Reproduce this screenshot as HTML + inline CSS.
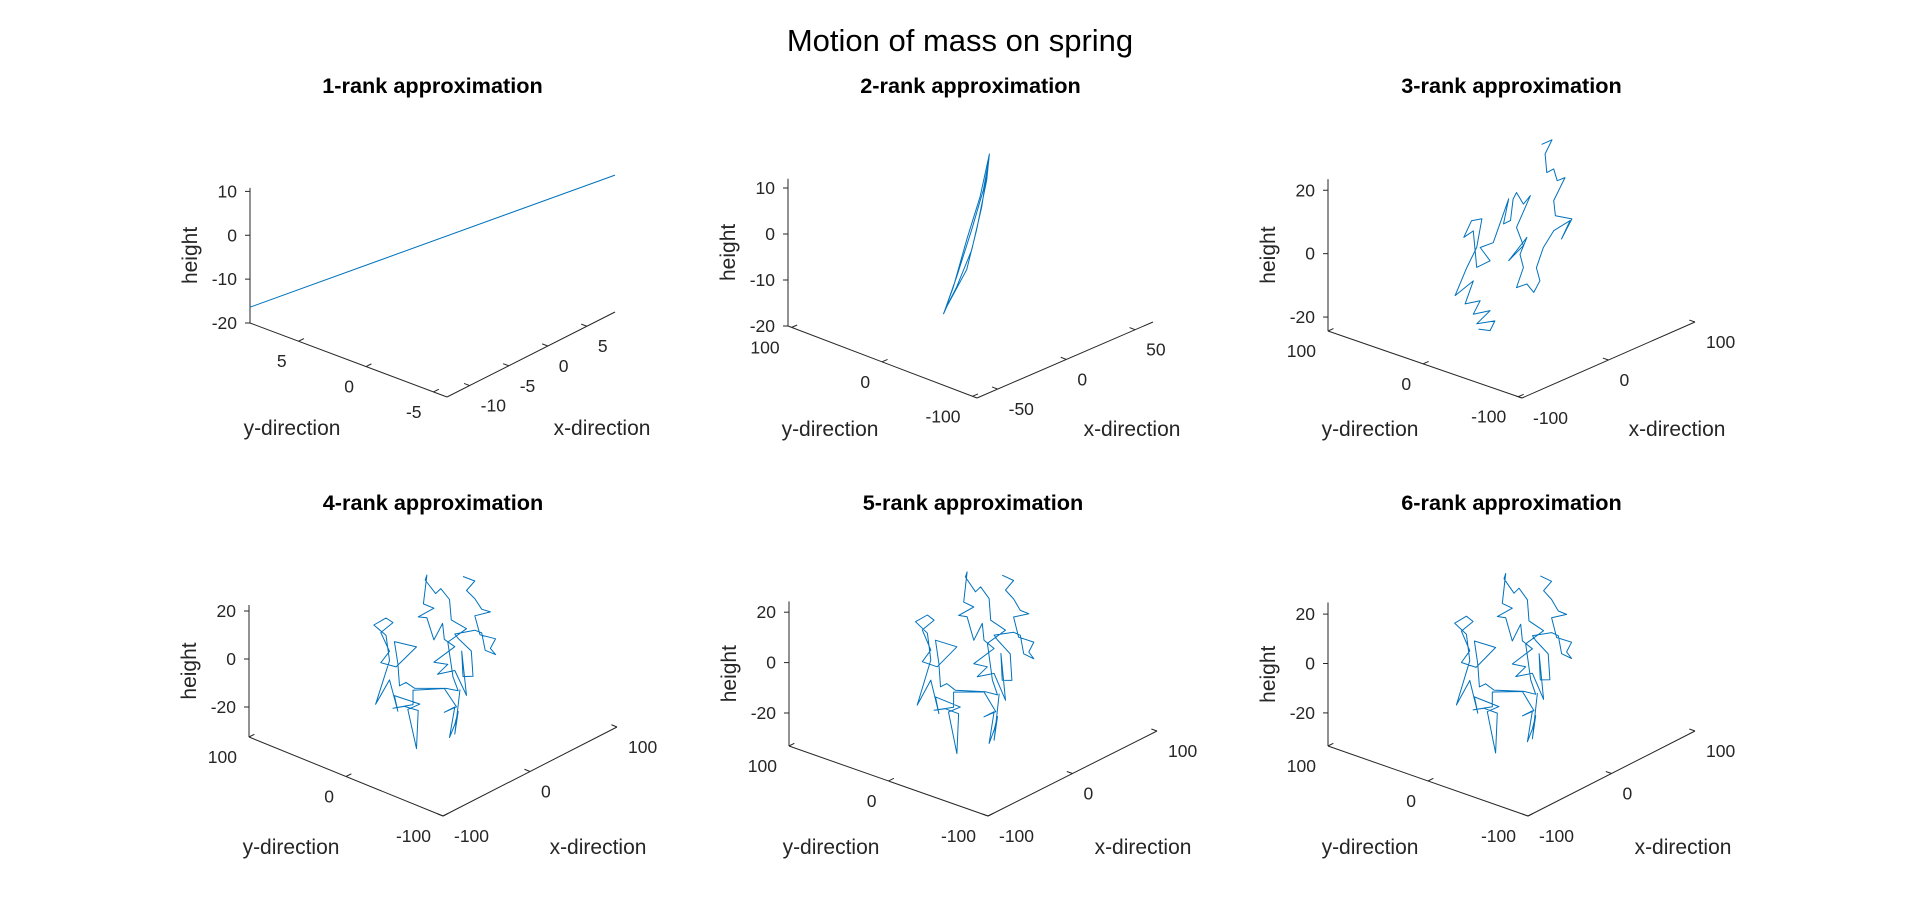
<!DOCTYPE html>
<html>
<head>
<meta charset="utf-8">
<style>
  html,body{margin:0;padding:0;background:#fff;}
  svg{display:block;font-family:"Liberation Sans",Arial,sans-serif;}
</style>
</head>
<body>
<svg id="fig" width="1920" height="911" viewBox="0 0 1920 911" xmlns="http://www.w3.org/2000/svg">
  <rect width="1920" height="911" fill="#ffffff"/>
  <text x="960" y="51" text-anchor="middle" font-size="31" fill="#000">Motion of mass on spring</text>
</svg>
<script>
// ---------- data ----------
const rank1X = [-12.9, 8.6];
const rank1Y = [8.6, -6];
const rank1Z = [-16.4, 11.2];

const rank2X = [-20.4,-13.1,-3.4,6.3,13.1,11.1,3.8,-3.4,-18,-19.2,-10.7,0.2,8.7,12.3,7.5,0.2,-10.7,-16.8,-20.4];
const rank2Z = [-15.4,-10.4,-1.4,6.7,15.1,9.7,-0.2,-7.9,-14.1,-14.6,-8.5,0.3,7.9,13.2,4.3,-4.1,-10.7,-13.5,-15.4];

const rank3X = [37,49,41,43,51,55,64,51,53,72,60,70,51,39,31,35,28,20,8,16,12,20,-1,16,8,24,16,8,4,1,-7,-1,-19,-34,-22.5,-38,-42,-53,-44,-32,-38,-49.5,-63,-42,-51.5,-34,-42,-22.5,-38,-17,-22.5,-36];
const rank3Z = [28.4,28.4,24.9,18.8,19,14.8,14.7,9,4,0.7,-4.2,0.4,-0.5,-4.4,-9.8,-14.4,-17.2,-13.6,-13.3,-7.9,-3.3,1.1,-3.7,-1,5.7,13.8,12.1,16.7,15.1,8.7,8.6,15.8,4.1,4.4,-1.2,-1.4,10.6,9.9,14,13.2,4.9,-0.1,-7.3,-5.2,-11.3,-12.4,-15.7,-16.9,-19.2,-20.8,-23.2,-21.1];

const rank4X = [34.5,48,38.5,48,56,66,48,54,72,66,72,60,56,48,25,29,44,46,34.5,33,38.5,25,5,17,1,25,13,11,1,-7,-17,1,-11,-7,-9,3,9,19,21,38.5,17,23,29,15,-21,-31,-38.5,-40.4,-44.4,-19,-42.4,-60,-50,-60,-46,-54,-68,-54,-50,-66,-50,-40.4,-44.4,-15,-29,-19,-17,-33,-46,-23,-23,13,27,13,25,19,25,29,25,31];
const rank4Z = [25.9,21.5,19.3,14.2,8.3,5.3,7,-2,-7,-9.9,-13.6,-9.6,-1.6,1,3.7,1.1,-6.9,-17.8,-15.8,-4.9,-24.4,-11.5,-9.4,-7.5,-3.6,-1.6,3.7,10.7,5.7,16.4,18.6,18.9,22.9,34.2,32.5,24.6,25.6,19.2,10.3,3.4,1.8,-13.8,-20.7,-17.1,-10.4,-6.1,-6.1,3.4,13.4,6.5,2.5,7.5,10.4,20.1,21.6,25,24.7,17.8,6.5,-8.7,-1.5,-16.4,-9.1,-18.1,-17.7,-35.9,-20.4,-15.7,-14.1,-16.8,-10.8,-16.8,-27,-26.7,-26.7,-38.3,-34,-29.3,-38,-20.5];

const rank5X = [34.5,48,38.5,48,56,66,48,54,72,66,72,60,56,48,25,29,44,46,34.5,33,38.5,25,5,17,1,25,13,11,1,-7,-17,1,-11,-7,-9,3,9,19,21,38.5,17,23,29,15,-21,-31,-38.5,-40.4,-44.4,-19,-42.4,-60,-50,-60,-46,-54,-68,-54,-50,-66,-50,-40.4,-44.4,-15,-29,-19,-17,-33,-46,-23,-23,13,27,13,25,19,25,29,25,31];
const rank5Z = [25.9,21.5,19.3,14.2,8.3,5.3,7,-2,-7,-9.9,-13.6,-9.6,-1.6,1,3.7,1.1,-6.9,-17.8,-15.8,-4.9,-24.4,-11.5,-9.4,-7.5,-3.6,-1.6,3.7,10.7,5.7,16.4,18.6,18.9,22.9,34.2,32.5,24.6,25.6,19.2,10.3,3.4,1.8,-13.8,-20.7,-17.1,-10.4,-6.1,-6.1,3.4,13.4,6.5,2.5,7.5,10.4,20.1,21.6,25,24.7,17.8,6.5,-8.7,-1.5,-16.4,-9.1,-18.1,-17.7,-35.9,-20.4,-15.7,-14.1,-16.8,-10.8,-16.8,-27,-26.7,-26.7,-38.3,-34,-29.3,-38,-20.5];

const rank6X = [34.5,48,38.5,48,56,66,48,54,72,66,72,60,56,48,25,29,44,46,34.5,33,38.5,25,5,17,1,25,13,11,1,-7,-17,1,-11,-7,-9,3,9,19,21,38.5,17,23,29,15,-21,-31,-38.5,-40.4,-44.4,-19,-42.4,-60,-50,-60,-46,-54,-68,-54,-50,-66,-50,-40.4,-44.4,-15,-29,-19,-17,-33,-46,-23,-23,13,27,13,25,19,25,29,25,31];
const rank6Z = [26.5,22,19.8,14.6,8.6,5.5,7.2,-1.8,-6.8,-9.7,-13.4,-9.4,-1.4,1.2,3.9,1.3,-6.7,-17.5,-15.6,-4.7,-24.2,-11.3,-9.2,-7.3,-3.4,-1.4,3.9,11,5.9,16.7,18.9,19.2,23.2,34.6,32.8,24.9,25.9,19.5,10.6,3.6,2,-13.6,-20.5,-16.9,-10.2,-5.9,-5.9,3.6,13.7,6.7,2.7,7.7,10.7,20.4,21.9,25.4,25,18.1,6.7,-8.5,-1.3,-16.2,-8.9,-17.9,-17.5,-36,-20.2,-15.5,-13.9,-16.6,-10.6,-16.6,-26.8,-26.5,-26.5,-38,-33.8,-29.1,-37.8,-20.3];

const xTicks1 = [-10, -5, 0, 5];
const yTicks1 = [5, 0, -5];
const zTicks1 = [10, 0, -10, -20];
const xTicks2 = [-50, 0, 50];
const yTicks2 = [100, 0, -100];
const zTicks2 = [10, 0, -10, -20];
const xTicksBig = [-100, 0, 100];
const yTicksBig = [100, 0, -100];
const zTicksBig = [20, 0, -20];

const titles = ["1-rank approximation","2-rank approximation","3-rank approximation","4-rank approximation","5-rank approximation","6-rank approximation"];

// ---------- layout (axes geometry) ----------
const panels = [
  {A:[250,323],B:[447,397],C:[615,312],zs:4.387,zmin:-20,zmax:10.8,ymax:8.6,ymin:-6,xmin:-12.9,xmax:8.6,titleY:93,
   xs:rank1X, ys:rank1Y, zsd:rank1Z, xt:xTicks1, yt:yTicks1, zt:zTicks1},
  {A:[788,326],B:[977,398],C:[1153,322],zs:4.6,zmin:-20,zmax:12,ymax:104,ymin:-105,xmin:-65,xmax:63,titleY:93,
   xs:rank2X, ys:null, zsd:rank2Z, xt:xTicks2, yt:yTicks2, zt:zTicks2},
  {A:[1328,331],B:[1522,398],C:[1695,322],zs:3.17,zmin:-24.4,zmax:23.5,ymax:100,ymin:-104,xmin:-100,xmax:100,titleY:93,
   xs:rank3X, ys:null, zsd:rank3Z, xt:xTicksBig, yt:yTicksBig, zt:zTicksBig},
  {A:[249,737],B:[443,816],C:[617,727],zs:2.4,zmin:-32.5,zmax:22.5,ymax:100,ymin:-100,xmin:-100,xmax:100,titleY:510,
   xs:rank4X, ys:null, zsd:rank4Z, xt:xTicksBig, yt:yTicksBig, zt:zTicksBig},
  {A:[789,746],B:[988,816],C:[1157,731],zs:2.52,zmin:-33.1,zmax:24.3,ymax:100,ymin:-100,xmin:-100,xmax:100,titleY:510,
   xs:rank5X, ys:null, zsd:rank5Z, xt:xTicksBig, yt:yTicksBig, zt:zTicksBig},
  {A:[1328,746],B:[1528,816],C:[1695,731],zs:2.47,zmin:-33.4,zmax:24.7,ymax:100,ymin:-100,xmin:-100,xmax:100,titleY:510,
   xs:rank6X, ys:null, zsd:rank6Z, xt:xTicksBig, yt:yTicksBig, zt:zTicksBig}
];

const NS = "http://www.w3.org/2000/svg";
const svg = document.getElementById("fig");
function mk(tag, attrs, parent){
  const e = document.createElementNS(NS, tag);
  for (const k in attrs) e.setAttribute(k, attrs[k]);
  (parent||svg).appendChild(e);
  return e;
}
function proj(p, x, y, z){
  const ty = (p.ymax - y) / (p.ymax - p.ymin);
  const tx = (x - p.xmin) / (p.xmax - p.xmin);
  const sx = p.A[0] + ty*(p.B[0]-p.A[0]) + tx*(p.C[0]-p.B[0]);
  const sy = p.A[1] + ty*(p.B[1]-p.A[1]) + tx*(p.C[1]-p.B[1]) - (z - p.zmin)*p.zs;
  return [sx, sy];
}
const AX = "#262626";
panels.forEach((p, i) => {
  const g = mk("g", {});
  
  

  const t = mk("text", {x:(p.A[0]+p.C[0])/2, y:p.titleY, "text-anchor":"middle", "font-size":"21.7", "font-weight":"bold", fill:"#000"}, g);
  t.textContent = titles[i];
  
  

  const zTop = proj(p, p.xmin, p.ymax, p.zmax);
  const zl = mk("line", {x1:p.A[0], y1:p.A[1], x2:zTop[0], y2:zTop[1], stroke:AX, "stroke-width":1}, g);
  
  
  const yl = mk("line", {x1:p.A[0], y1:p.A[1], x2:p.B[0], y2:p.B[1], stroke:AX, "stroke-width":1}, g);
  
  
  const xl = mk("line", {x1:p.B[0], y1:p.B[1], x2:p.C[0], y2:p.C[1], stroke:AX, "stroke-width":1}, g);
  
  

  const cbx = p.C[0]-p.B[0], cby = p.C[1]-p.B[1], cl = Math.hypot(cbx,cby);
  const abx = p.A[0]-p.B[0], aby = p.A[1]-p.B[1], al = Math.hypot(abx,aby);

  p.zt.forEach(v => {
    const q = proj(p, p.xmin, p.ymax, v);
    const tk = mk("line", {x1:q[0], y1:q[1], x2:q[0]-5, y2:q[1], stroke:AX}, g);
    
    
    const lb = mk("text", {x:q[0]-13, y:q[1]+6, "text-anchor":"end", "font-size":"17.5", fill:AX}, g);
    lb.textContent = v;
    
    
  });
  p.yt.forEach(v => {
    const q = proj(p, p.xmin, v, p.zmin);
    const tk = mk("line", {x1:q[0], y1:q[1], x2:q[0]+cbx/cl*6, y2:q[1]+cby/cl*6, stroke:AX}, g);
    
    
    const lb = mk("text", {x:q[0]-12, y:q[1]+26, "text-anchor":"end", "font-size":"17.5", fill:AX}, g);
    lb.textContent = v;
    
    
  });
  p.xt.forEach(v => {
    const q = proj(p, v, p.ymin, p.zmin);
    const tk = mk("line", {x1:q[0], y1:q[1], x2:q[0]+abx/al*6, y2:q[1]+aby/al*6, stroke:AX}, g);
    
    
    const lb = mk("text", {x:q[0]+11, y:q[1]+26, "text-anchor":"start", "font-size":"17.5", fill:AX}, g);
    lb.textContent = v;
    
    
  });

  const zmid = (p.A[1] + zTop[1]) / 2;
  const hx = p.A[0]-53;
  const hl = mk("text", {x:hx, y:zmid, transform:"rotate(-90 "+hx+" "+zmid+")", "text-anchor":"middle", "font-size":"21", fill:AX}, g);
  hl.textContent = "height";
  
  
  const yd = mk("text", {x:p.A[0]+42, y:p.B[1]+38, "text-anchor":"middle", "font-size":"21", fill:AX}, g);
  yd.textContent = "y-direction";
  
  
  const xd = mk("text", {x:p.B[0]+155, y:p.B[1]+38, "text-anchor":"middle", "font-size":"21", fill:AX}, g);
  xd.textContent = "x-direction";
  
  

  const pts = p.xs.map((x, k) => proj(p, x, p.ys ? p.ys[k] : 0, p.zsd[k]));
  const pl = mk("polyline", {points: pts.map(q => q[0].toFixed(1)+","+q[1].toFixed(1)).join(" "), fill:"none", stroke:"#0072BD", "stroke-width":"1", "stroke-linejoin":"round"}, g);
  
  
});
</script>
</body>
</html>
